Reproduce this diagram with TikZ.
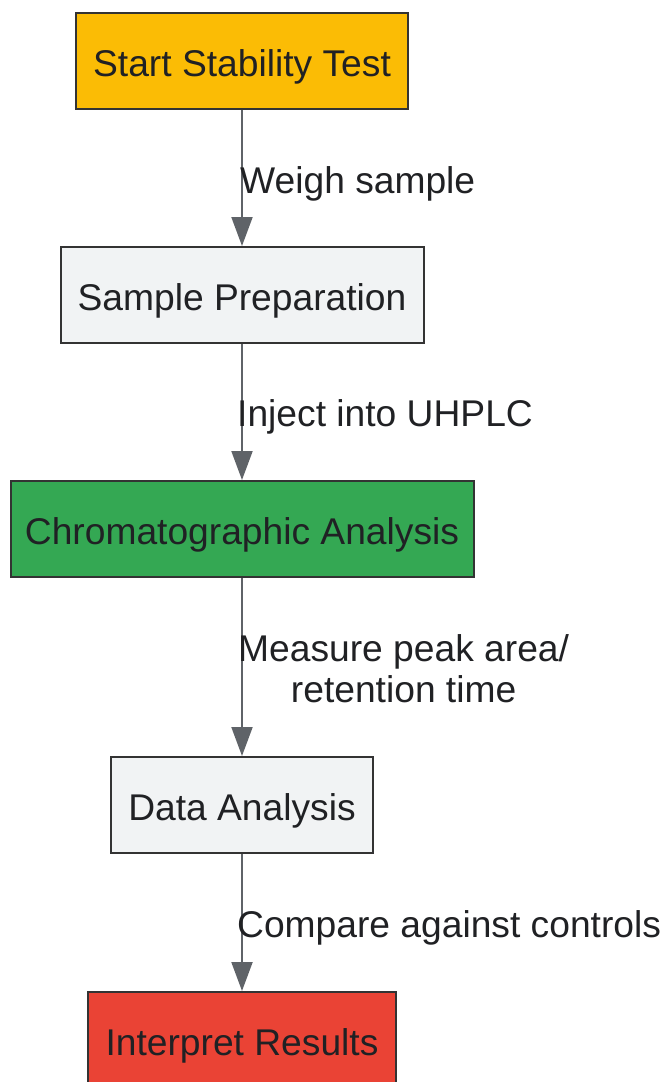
\documentclass[tikz,border=0pt]{standalone}
\usepackage{fontspec}
\setmainfont{Liberation Sans}
\usetikzlibrary{arrows.meta}
\definecolor{yel}{HTML}{FBBC05}
\definecolor{lgray}{HTML}{F1F3F4}
\definecolor{grn}{HTML}{34A853}
\definecolor{rd}{HTML}{EA4335}
\definecolor{bordc}{HTML}{333333}
\definecolor{edgec}{HTML}{5F6368}
\definecolor{txt}{HTML}{202124}
\begin{document}
\begin{tikzpicture}[x=1pt,y=-1pt,
  box/.style={draw=bordc, line width=2pt, minimum height=96pt, inner sep=0pt,
    text=txt, font=\fontsize{37.2}{44}\selectfont, text height=33.5pt, text depth=2.7pt},
  lbl/.style={text=txt, font=\fontsize{37.2}{44}\selectfont, inner sep=0pt},
  conn/.style={draw=edgec, line width=2pt, -{Triangle[length=29pt,width=21pt]}}]
\useasboundingbox (0,0) rectangle (663,1082);
\node[box, fill=yel, minimum width=332pt] (a) at (242,61) {Start Stability Test};
\node[box, fill=lgray, minimum width=363pt] (b) at (242,295) {Sample Preparation};
\node[box, fill=grn, minimum width=463pt] (c) at (242,529) {Chromatographic Analysis};
\node[box, fill=lgray, minimum width=262pt] (d) at (242,805) {Data Analysis};
\node[box, fill=rd, minimum width=308pt] (e) at (242,1040) {Interpret Results};
\draw[conn] (a.south) -- (b.north);
\draw[conn] (b.south) -- (c.north);
\draw[conn] (c.south) -- (d.north);
\draw[conn] (d.south) -- (e.north);
\node[lbl, anchor=base west] (la) at (240,193) {Weigh sample};
\node[lbl, anchor=base west] (lb) at (237,426) {Inject into UHPLC};
\node[lbl, anchor=base west] (lc1) at (238,661) {Measure peak area/};
\node[lbl, anchor=base] (lc2) at (lc1.base |- 0,702) {retention time};
\node[lbl, anchor=base west] (ld) at (237,937) {Compare against controls};
\end{tikzpicture}
\end{document}
